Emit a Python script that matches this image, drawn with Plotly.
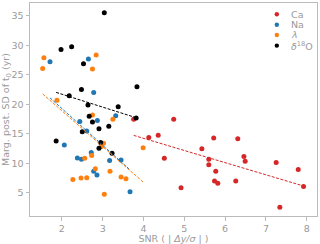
import numpy as np
import plotly.graph_objects as go

ca_x = [3.76, 4.13, 4.36, 4.51, 4.74, 4.92, 5.43, 5.60, 5.60, 5.72, 5.74, 5.77, 5.82, 6.26, 6.31, 6.46, 6.49, 7.25, 7.34, 7.79, 7.92]
ca_y = [17.5, 14.4, 14.8, 10.9, 17.5, 5.9, 12.5, 10.7, 9.8, 14.3, 7.05, 8.7, 6.65, 7.05, 14.2, 11.2, 10.4, 10.15, 2.6, 9.0, 6.1]

na_x = [1.71, 2.65, 2.78, 2.87, 2.44, 3.32, 2.61, 2.06, 2.38, 2.48, 2.72, 2.78, 2.86, 3.17, 3.45, 3.67]
na_y = [27.25, 27.7, 22.05, 17.3, 17.1, 18.1, 15.5, 13.15, 10.95, 10.7, 11.85, 8.7, 8.05, 10.5, 10.6, 5.2]

lam_x = [1.56, 1.53, 2.84, 2.75, 1.88, 2.75, 3.25, 3.99, 3.02, 2.97, 2.56, 2.73, 2.82, 3.18, 3.45, 3.57, 2.27, 2.47, 2.61, 3.04]
lam_y = [27.9, 26.1, 28.4, 26.0, 20.7, 18.2, 17.5, 12.65, 13.45, 12.9, 10.9, 11.35, 9.1, 8.7, 7.7, 7.4, 7.3, 7.55, 7.6, 4.8]

d18_x = [3.04, 1.98, 2.24, 2.53, 2.48, 2.18, 2.64, 3.38, 3.84, 3.82, 2.67, 2.75, 2.50, 2.91, 3.15, 1.86, 2.95, 2.91, 3.23]
d18_y = [35.56, 29.3, 29.8, 26.9, 22.55, 21.5, 19.9, 19.6, 23.0, 17.7, 18.0, 17.05, 15.4, 15.9, 16.3, 13.8, 13.55, 12.6, 11.75]

series_names = ["Ca", "Na", "<i>λ</i>", "<i>δ</i><sup>18</sup>O"]
series_colors = ["#d62728", "#1f77b4", "#ff7f0e", "#000000"]
series_x = [ca_x, na_x, lam_x, d18_x]
series_y = [ca_y, na_y, lam_y, d18_y]

grey = "#9a9a9a"
fig = go.Figure()
for name, xs, ys, col in zip(series_names, series_x, series_y, series_colors):
    fig.add_trace(go.Scatter(x=xs, y=ys, mode="markers", name=name, showlegend=False,
                             marker=dict(color=col, size=5, line=dict(width=0))))
for name, xs, ys, col in zip(series_names, series_x, series_y, series_colors):
    xa = np.array(xs); ya = np.array(ys)
    m, b = np.polyfit(xa, ya, 1)
    xx = np.array([xa.min(), xa.max()])
    fig.add_trace(go.Scatter(x=xx, y=m * xx + b, mode="lines", showlegend=False,
                             line=dict(color=col, width=1, dash="3px,1.5px")))

# compact legend (top right)
leg_y = [0.947, 0.898, 0.850, 0.800]
for name, col, yy in zip(series_names, series_colors, leg_y):
    fig.add_shape(type="circle", xref="paper", yref="paper", xsizemode="pixel", ysizemode="pixel",
                  xanchor=0.86, yanchor=yy, x0=-2.2, x1=2.2, y0=-2.2, y1=2.2,
                  fillcolor=col, line=dict(width=0))
    fig.add_annotation(x=0.903, y=yy, xref="paper", yref="paper", text=name, showarrow=False,
                       xanchor="left", yanchor="middle", font=dict(size=9.5, color=grey, family="DejaVu Sans"))

axis_common = dict(showgrid=False, zeroline=False, showline=True, linecolor="#bbbbbb",
                   linewidth=1, mirror=True, ticks="outside", ticklen=3.5, tickwidth=1,
                   tickcolor="#bbbbbb", tickfont=dict(size=9.5, color=grey, family="DejaVu Sans"))
fig.update_layout(
    width=320, height=244,
    margin=dict(l=30, r=3, t=3, b=28, autoexpand=False),
    paper_bgcolor="white", plot_bgcolor="white",
    font=dict(family="DejaVu Sans", color=grey, size=9),
    showlegend=False,
    xaxis=dict(range=[1.22, 8.25], tickvals=[2, 3, 4, 5, 6, 7, 8],
               title=dict(text="SNR ( | <i>Δy/σ</i> | )", font=dict(size=9.5, color=grey), standoff=2),
               **axis_common),
    yaxis=dict(range=[1.1, 37.2], tickvals=[5, 10, 15, 20, 25, 30, 35],
               title=dict(text="Marg. post. SD of t<sub>0</sub> (yr)", font=dict(size=9.5, color=grey), standoff=2),
               **axis_common),
)
fig.write_html("out.html", config={"displayModeBar": False},
               post_script="document.body.style.margin='0';document.body.style.overflow='hidden';")
